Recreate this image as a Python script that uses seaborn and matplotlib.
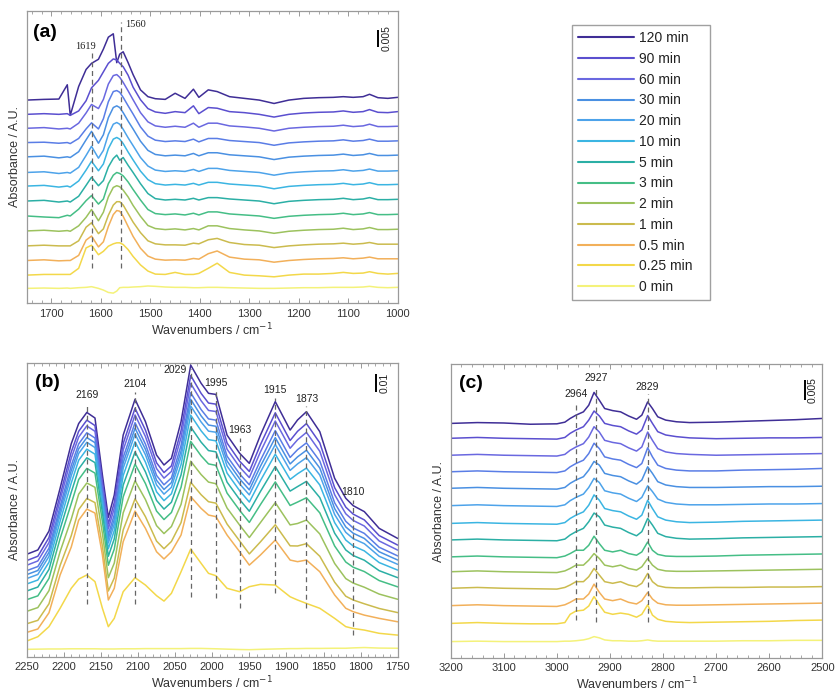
import matplotlib
matplotlib.use("Agg")
import matplotlib.pyplot as plt
import seaborn as sns
from matplotlib.ticker import MultipleLocator

# ------------------------------------------------------------------
# Data (absorbance values in units of 1e-3 A.U., offset spectra)
# ------------------------------------------------------------------
TIME_LABELS = ["120 min", "90 min", "60 min", "", "30 min", "20 min", "10 min",
               "5 min", "3 min", "2 min", "1 min", "0.5 min", "0.25 min", "0 min"]

# ---- panel (a): 1750-1000 cm-1 ----
WN_A = [1750, 1715, 1685, 1668, 1662, 1645, 1630, 1619, 1605, 1595, 1585, 1575, 1568, 1562,
        1555, 1545, 1535, 1520, 1505, 1490, 1470, 1450, 1430, 1413, 1402, 1383, 1365, 1340,
        1310, 1280, 1250, 1220, 1190, 1160, 1130, 1110, 1090, 1070, 1057, 1040, 1020, 1000]
a_120 = [59.7, 59.9, 60.0, 64.2, 55.2, 63.7, 68.7, 70.5, 71.7, 74.7, 78.2, 79.2, 70.7, 73.2, 73.9, 70.7, 67.2, 62.7, 60.7, 60.1, 59.9, 61.7, 60.2, 62.9, 60.5, 62.7, 62.2, 60.7, 60.2, 59.7, 58.7, 59.7, 60.2, 60.4, 60.5, 60.7, 60.5, 60.7, 61.4, 60.4, 60.2, 60.5]
a_90 = [55.5, 55.7, 55.5, 55.7, 55.2, 56.5, 59.5, 63.3, 65.5, 68.0, 70.5, 71.8, 71.5, 70.5, 69.5, 67.0, 63.5, 59.8, 57.2, 56.2, 55.8, 56.3, 56.0, 58.0, 55.7, 57.5, 57.3, 56.3, 56.0, 55.5, 54.7, 55.5, 55.9, 56.1, 56.2, 56.5, 56.1, 56.3, 56.9, 56.1, 56.0, 56.3]
a_60 = [51.4, 51.6, 51.2, 51.4, 51.2, 52.9, 55.9, 58.4, 57.2, 59.9, 64.4, 66.9, 67.2, 66.4, 64.9, 62.4, 59.8, 56.0, 53.3, 52.1, 51.7, 52.0, 51.7, 52.9, 51.7, 52.9, 52.9, 52.1, 51.8, 51.4, 50.6, 51.4, 51.7, 51.9, 52.0, 52.3, 51.9, 52.1, 52.6, 51.9, 51.9, 52.0]
a_x = [47.2, 47.3, 47.0, 47.2, 46.9, 48.4, 51.2, 53.0, 51.2, 54.2, 59.2, 62.2, 62.5, 62.0, 60.5, 58.0, 55.6, 51.8, 49.1, 47.9, 47.5, 47.7, 47.5, 48.2, 47.4, 48.4, 48.4, 47.8, 47.5, 47.2, 46.4, 47.1, 47.4, 47.6, 47.7, 48.0, 47.6, 47.8, 48.2, 47.6, 47.6, 47.7]
a_30 = [43.0, 43.2, 42.7, 43.0, 42.8, 44.5, 48.0, 50.5, 47.0, 49.5, 54.5, 57.5, 58.0, 57.5, 56.0, 53.5, 51.2, 47.6, 44.9, 43.7, 43.3, 43.5, 43.3, 44.0, 43.3, 44.2, 44.2, 43.6, 43.3, 43.0, 42.2, 42.9, 43.2, 43.4, 43.5, 43.8, 43.4, 43.6, 44.0, 43.4, 43.4, 43.5]
a_20 = [38.4, 38.6, 38.1, 38.4, 38.2, 39.9, 43.4, 46.1, 42.6, 44.9, 49.6, 52.6, 53.1, 52.6, 51.1, 48.6, 46.3, 42.8, 40.3, 39.1, 38.7, 38.9, 38.7, 39.3, 38.7, 39.6, 39.6, 39.0, 38.7, 38.4, 37.6, 38.3, 38.6, 38.8, 38.9, 39.2, 38.8, 39.0, 39.4, 38.8, 38.8, 38.9]
a_10 = [34.4, 34.6, 34.1, 34.4, 34.1, 35.9, 39.1, 41.7, 38.9, 40.9, 45.4, 48.2, 48.7, 48.2, 46.9, 44.4, 42.1, 38.8, 36.3, 35.1, 34.7, 34.9, 34.7, 35.2, 34.7, 35.5, 35.5, 35.0, 34.7, 34.4, 33.6, 34.3, 34.6, 34.8, 34.9, 35.2, 34.8, 35.0, 35.4, 34.8, 34.8, 34.9]
a_5 = [30.0, 30.2, 29.7, 30.0, 29.7, 31.4, 34.6, 37.0, 34.5, 36.0, 40.0, 42.5, 43.5, 42.0, 42.8, 40.5, 38.4, 35.1, 32.2, 30.7, 30.3, 30.5, 30.3, 30.8, 30.3, 31.0, 31.0, 30.6, 30.3, 30.0, 29.2, 29.9, 30.2, 30.4, 30.5, 30.8, 30.4, 30.6, 31.0, 30.4, 30.4, 30.5]
a_3 = [25.6, 25.3, 25.1, 25.8, 25.6, 27.6, 30.1, 31.6, 29.1, 30.6, 35.1, 37.6, 38.4, 38.1, 37.4, 35.6, 33.4, 30.3, 27.5, 26.3, 26.0, 26.2, 25.9, 26.4, 25.9, 26.8, 26.8, 26.2, 25.9, 25.6, 24.9, 25.5, 25.8, 26.0, 26.1, 26.4, 26.0, 26.2, 26.6, 26.0, 26.0, 26.1]
a_2 = [21.2, 21.4, 21.1, 21.3, 21.1, 22.7, 25.2, 27.5, 24.2, 26.7, 31.2, 34.0, 34.5, 34.2, 33.2, 31.2, 28.7, 25.5, 22.8, 21.9, 21.6, 21.8, 21.5, 21.9, 21.5, 22.7, 22.7, 21.9, 21.5, 21.2, 20.5, 21.1, 21.4, 21.6, 21.7, 22.0, 21.6, 21.8, 22.2, 21.6, 21.6, 21.7]
a_1 = [16.8, 17.0, 16.8, 16.8, 16.8, 18.3, 22.3, 23.6, 20.4, 21.8, 25.8, 28.8, 29.8, 29.8, 28.8, 26.3, 23.8, 20.7, 18.3, 17.4, 17.1, 17.1, 17.0, 17.6, 17.4, 18.6, 19.0, 17.8, 17.2, 17.0, 16.3, 16.8, 17.1, 17.3, 17.4, 17.6, 17.3, 17.5, 17.8, 17.3, 17.3, 17.3]
a_05 = [12.5, 12.7, 12.4, 12.5, 12.5, 14.0, 18.5, 19.7, 16.5, 18.0, 22.5, 26.0, 27.2, 27.0, 25.5, 22.5, 19.6, 16.1, 13.8, 12.9, 12.6, 12.7, 12.6, 13.1, 12.9, 14.5, 15.3, 13.5, 12.9, 12.7, 12.0, 12.5, 12.8, 13.0, 13.1, 13.3, 13.0, 13.2, 13.5, 13.0, 13.0, 13.0]
a_025 = [8.2, 8.4, 8.4, 8.4, 8.4, 10.2, 16.2, 17.0, 14.2, 15.2, 16.7, 17.4, 17.7, 17.7, 17.2, 15.7, 13.7, 11.2, 9.4, 8.5, 8.4, 9.0, 8.4, 8.4, 8.7, 10.2, 11.7, 9.0, 8.2, 8.0, 7.7, 8.2, 8.5, 8.5, 8.7, 9.0, 8.7, 8.8, 9.2, 8.7, 8.5, 8.7]
a_0 = [4.3, 4.4, 4.3, 4.4, 4.3, 4.5, 4.6, 4.8, 4.3, 3.8, 3.1, 2.9, 3.5, 4.5, 4.6, 4.6, 4.7, 4.8, 5.0, 4.9, 4.7, 4.6, 4.6, 4.5, 4.5, 4.6, 4.6, 4.5, 4.4, 4.3, 4.3, 4.4, 4.5, 4.5, 4.6, 4.6, 4.6, 4.7, 4.9, 4.6, 4.5, 4.6]

# ---- panel (b): 2250-1750 cm-1 ----
WN_B = [2250, 2235, 2220, 2205, 2190, 2180, 2169, 2158, 2148, 2140, 2132, 2120, 2104, 2090,
        2075, 2065, 2055, 2042, 2029, 2015, 2005, 1995, 1980, 1963, 1950, 1935, 1915, 1895,
        1885, 1873, 1855, 1835, 1820, 1810, 1795, 1775, 1750]
b_120 = [56.9, 59.3, 69.8, 93.6, 118.3, 129.5, 135.7, 132.6, 100.9, 77.4, 89.8, 123.1, 143.0, 130.6, 112.0, 106.5, 110.2, 130.6, 162.0, 151.9, 146.3, 145.7, 123.1, 113.0, 107.4, 123.1, 141.7, 125.9, 131.5, 136.1, 125.0, 99.1, 88.0, 83.9, 80.6, 71.3, 65.7]
b_90 = [53.4, 55.8, 66.2, 89.7, 113.7, 125.2, 131.4, 128.4, 97.3, 73.7, 85.7, 118.4, 138.0, 125.9, 107.7, 102.3, 106.0, 125.6, 156.2, 146.3, 140.9, 140.3, 118.7, 108.6, 102.9, 117.8, 135.5, 120.1, 125.2, 129.5, 118.8, 93.9, 83.1, 79.2, 76.0, 67.3, 62.0]
b_60 = [50.8, 53.2, 63.4, 86.9, 110.3, 122.0, 128.2, 125.2, 94.7, 71.0, 82.5, 114.8, 134.3, 122.3, 104.5, 99.2, 102.9, 121.8, 151.8, 142.2, 136.8, 136.2, 115.3, 105.3, 99.5, 113.8, 130.9, 115.8, 120.5, 124.6, 114.1, 90.0, 79.4, 75.7, 72.6, 64.3, 59.2]
b_x = [47.8, 50.1, 60.3, 83.5, 106.2, 118.2, 124.4, 121.5, 91.6, 67.8, 78.9, 110.7, 130.0, 118.1, 100.7, 95.5, 99.3, 117.4, 146.6, 137.3, 132.1, 131.4, 111.4, 101.5, 95.5, 109.1, 125.6, 110.7, 115.0, 118.8, 108.7, 85.5, 75.2, 71.5, 68.5, 60.8, 56.0]
b_30 = [45.6, 47.9, 58.0, 81.1, 103.4, 115.5, 121.7, 118.9, 89.4, 65.5, 76.3, 107.7, 126.9, 115.2, 98.0, 92.9, 96.7, 114.2, 143.0, 133.8, 128.7, 128.0, 108.7, 98.8, 92.7, 105.8, 121.7, 107.1, 111.0, 114.7, 104.8, 82.3, 72.1, 68.6, 65.7, 58.3, 53.7]
b_20 = [43.4, 45.7, 55.7, 78.7, 100.5, 112.9, 119.1, 116.2, 87.1, 63.2, 73.7, 104.7, 123.7, 112.2, 95.4, 90.3, 94.1, 111.1, 139.3, 130.4, 125.3, 124.7, 105.9, 96.0, 89.9, 102.5, 117.9, 103.5, 107.1, 110.6, 100.9, 79.0, 69.1, 65.6, 62.8, 55.8, 51.3]
b_10 = [40.4, 42.6, 52.5, 75.3, 96.5, 109.1, 115.3, 112.5, 84.0, 60.0, 70.1, 100.6, 119.4, 108.1, 91.6, 86.7, 90.5, 106.7, 134.2, 125.5, 120.6, 119.9, 102.0, 92.2, 85.9, 97.8, 112.5, 98.5, 101.6, 104.8, 95.4, 74.5, 64.8, 61.5, 58.8, 52.3, 48.1]
b_5 = [36.5, 38.7, 48.5, 70.9, 91.3, 104.3, 110.5, 107.8, 80.0, 55.8, 65.5, 95.3, 113.8, 102.7, 86.8, 82.0, 85.8, 101.0, 127.6, 119.2, 114.5, 113.8, 97.0, 87.3, 80.8, 91.8, 105.6, 92.0, 94.5, 97.4, 88.4, 68.6, 59.3, 56.2, 53.6, 47.8, 43.9]
b_3 = [31.7, 33.8, 43.5, 65.6, 85.0, 98.4, 104.6, 102.0, 75.1, 50.8, 59.8, 88.8, 107.0, 96.2, 80.9, 76.2, 80.1, 94.1, 119.6, 111.6, 107.1, 106.3, 90.9, 81.3, 74.6, 84.5, 97.1, 84.0, 85.9, 88.3, 79.9, 61.5, 52.6, 49.7, 47.3, 42.3, 38.8]
b_2 = [25.2, 27.3, 36.7, 58.4, 76.4, 90.3, 96.5, 94.1, 68.5, 43.9, 52.0, 79.9, 97.7, 87.3, 72.8, 68.4, 72.3, 84.6, 108.6, 101.2, 97.0, 96.1, 82.6, 73.1, 66.2, 74.5, 85.6, 73.2, 74.0, 75.9, 68.2, 51.8, 43.4, 40.9, 38.6, 34.8, 31.9]
b_1 = [18.3, 20.2, 29.4, 50.7, 67.2, 81.7, 87.9, 85.6, 61.4, 36.5, 43.7, 70.4, 87.7, 77.8, 64.2, 60.0, 64.0, 74.5, 96.9, 90.0, 86.1, 85.3, 73.7, 64.3, 57.1, 63.8, 73.3, 61.6, 61.5, 62.8, 55.8, 41.4, 33.6, 31.5, 29.4, 26.8, 24.5]
b_05 = [13.5, 15.4, 24.4, 45.4, 60.9, 75.8, 82.0, 79.8, 56.5, 31.5, 38.0, 63.9, 80.9, 71.3, 58.3, 54.3, 58.3, 67.6, 88.9, 82.4, 78.7, 77.8, 67.6, 58.3, 50.9, 56.5, 64.8, 53.7, 52.8, 53.7, 47.2, 34.3, 26.9, 25.0, 23.1, 21.3, 19.4]
b_025 = [8.7, 11.1, 16.7, 26.9, 38.0, 43.1, 45.4, 41.7, 26.9, 16.7, 21.3, 36.1, 43.9, 39.8, 33.9, 30.9, 35.2, 47.2, 59.8, 51.9, 46.3, 45.0, 38.0, 36.1, 38.9, 40.2, 39.8, 33.3, 31.5, 29.6, 26.9, 21.3, 16.7, 15.7, 14.8, 13.0, 12.0]
b_0 = [4.1, 4.2, 4.3, 4.3, 4.4, 4.4, 4.4, 4.4, 4.3, 4.3, 4.3, 4.4, 4.4, 4.5, 4.5, 4.5, 4.5, 4.5, 4.6, 4.6, 4.5, 4.4, 4.2, 4.0, 3.9, 4.1, 4.3, 4.5, 4.5, 4.6, 4.6, 4.7, 4.7, 4.9, 5.1, 4.8, 4.7]

# ---- panel (c): 3200-2500 cm-1 ----
WN_C = [3200, 3150, 3100, 3050, 3000, 2985, 2975, 2964, 2950, 2940, 2930, 2920, 2910, 2895,
        2880, 2865, 2850, 2840, 2829, 2820, 2810, 2795, 2775, 2750, 2700, 2650, 2600, 2550, 2500]
c_120 = [56.7, 56.9, 56.8, 56.5, 56.6, 57.0, 57.9, 58.7, 59.5, 61.1, 64.2, 62.3, 60.3, 59.8, 59.5, 58.5, 57.7, 58.7, 61.9, 60.3, 58.3, 57.5, 57.1, 56.9, 57.0, 57.2, 57.4, 57.6, 57.9]
c_90 = [53.1, 53.3, 53.1, 53.0, 52.9, 53.3, 54.3, 55.1, 55.9, 57.5, 59.7, 58.5, 56.7, 56.2, 55.9, 54.9, 54.1, 55.1, 58.6, 56.7, 54.7, 53.9, 53.5, 53.2, 53.0, 53.1, 53.2, 53.2, 53.3]
c_60 = [49.0, 49.2, 49.0, 48.9, 48.8, 49.2, 50.2, 51.0, 51.8, 53.4, 55.9, 54.6, 52.6, 52.1, 51.8, 50.8, 50.0, 51.0, 54.6, 52.6, 50.6, 49.8, 49.4, 49.2, 49.0, 49.1, 49.2, 49.3, 49.4]
c_x = [45.0, 45.2, 45.0, 44.9, 44.8, 45.2, 46.2, 47.0, 47.8, 49.4, 51.9, 50.6, 48.6, 48.1, 47.8, 46.8, 46.0, 47.0, 50.8, 48.6, 46.6, 45.8, 45.4, 45.2, 45.2, 45.4, 45.5, 45.6, 45.8]
c_30 = [41.0, 41.2, 41.0, 40.9, 40.8, 41.2, 42.2, 43.0, 43.8, 45.4, 47.5, 46.6, 44.6, 44.1, 43.8, 42.8, 42.0, 43.0, 46.2, 44.6, 42.6, 41.8, 41.4, 41.2, 41.2, 41.3, 41.4, 41.4, 41.5]
c_20 = [36.8, 37.0, 36.8, 36.7, 36.6, 37.0, 38.0, 38.8, 39.6, 41.2, 43.4, 42.4, 40.4, 39.9, 39.6, 38.6, 37.8, 38.8, 41.6, 40.2, 38.4, 37.6, 37.2, 37.0, 37.0, 37.1, 37.2, 37.2, 37.3]
c_10 = [32.5, 32.7, 32.5, 32.4, 32.3, 32.7, 33.7, 34.5, 35.3, 36.9, 39.4, 38.1, 36.1, 35.6, 35.3, 34.3, 33.5, 34.5, 38.1, 36.1, 34.1, 33.3, 32.9, 32.7, 32.8, 33.0, 33.1, 33.2, 33.3]
c_5 = [28.5, 28.7, 28.5, 28.4, 28.3, 28.7, 29.7, 30.5, 31.3, 32.9, 35.0, 34.1, 32.1, 31.6, 31.3, 30.3, 29.5, 30.5, 33.7, 32.1, 30.1, 29.3, 28.9, 28.7, 28.8, 29.0, 29.1, 29.2, 29.3]
c_3 = [24.4, 24.6, 24.4, 24.3, 24.2, 24.6, 25.2, 26.0, 26.0, 27.2, 29.4, 27.6, 26.0, 25.6, 26.0, 25.2, 24.8, 25.6, 28.0, 26.0, 25.0, 24.6, 24.5, 24.5, 24.6, 24.8, 24.9, 25.0, 25.1]
c_2 = [20.8, 21.0, 20.8, 20.7, 20.6, 21.0, 21.6, 22.4, 22.4, 23.6, 25.2, 24.0, 22.4, 22.0, 22.4, 21.6, 21.2, 22.0, 24.0, 22.4, 21.4, 21.0, 20.9, 20.9, 21.0, 21.1, 21.2, 21.3, 21.4]
c_1 = [16.8, 17.0, 16.8, 16.7, 16.6, 17.0, 17.6, 18.4, 18.4, 19.6, 21.6, 20.0, 18.4, 18.0, 18.4, 17.6, 17.2, 18.0, 20.4, 18.4, 17.4, 17.0, 16.9, 16.9, 17.0, 17.0, 17.1, 17.1, 17.2]
c_05 = [12.6, 12.8, 12.6, 12.5, 12.4, 12.8, 13.4, 14.2, 14.2, 15.4, 17.8, 15.8, 14.2, 13.8, 14.2, 13.4, 13.0, 13.8, 15.8, 14.2, 13.2, 12.8, 12.7, 12.7, 12.8, 12.9, 13.0, 13.1, 13.2]
c_025 = [8.3, 8.5, 8.3, 8.2, 8.2, 8.5, 10.5, 11.3, 11.5, 12.5, 14.8, 12.8, 11.0, 10.5, 10.8, 10.5, 9.8, 10.5, 12.8, 10.3, 9.3, 8.8, 8.6, 8.5, 8.6, 8.7, 8.8, 9.0, 9.1]
c_0 = [3.9, 4.0, 3.9, 3.9, 3.9, 4.0, 4.0, 4.1, 4.3, 4.6, 5.1, 4.8, 4.3, 4.1, 4.1, 4.0, 4.0, 4.1, 4.3, 4.1, 4.0, 4.0, 4.0, 4.0, 4.0, 4.1, 4.1, 4.2, 4.2]

# Marked peaks: (wavenumber, dashed-line top, dashed-line bottom)
PEAKS_A = [(1619, 73.4, 10.2), (1560, 82.7, 10.2)]
PEAKS_B = [(2169, 141.0, 29.1), (2104, 146.9, 29.1), (2029, 160.0, 33.3), (1995, 147.8, 32.8),
           (1963, 121.5, 26.9), (1915, 143.6, 35.2), (1873, 139.1, 26.9), (1810, 87.3, 12.0)]
PEAKS_C = [(2964, 62.0, 9.1), (2927, 65.7, 8.7), (2829, 63.7, 8.7)]

# Scale bars: (x position, bottom, length in 1e-3 A.U., label)
SCALE_A = (1040, 75.4, 5, "0.005")
SCALE_B = (1779, 147.2, 10, "0.01")
SCALE_C = (2533, 62.3, 5, "0.005")

# ------------------------------------------------------------------
# Style
# ------------------------------------------------------------------
COLORS = ["#3F2E96", "#5B4FCF", "#6A68E0", "#5A7DE6", "#4A90E2", "#4DA3EA", "#3BB5E2",
          "#2BAFA5", "#45BE86", "#9CC25E", "#CBBB4E", "#F2B05A", "#F3D84A", "#F4F27A"]

sns.set_theme(style="white")
plt.rcParams["font.family"] = ["Liberation Sans", "DejaVu Sans"]

fig = plt.figure(figsize=(8.35, 6.97), dpi=100)
ax_a = fig.add_axes([0.032, 0.5653, 0.4443, 0.4189])
ax_b = fig.add_axes([0.032, 0.0578, 0.4443, 0.4210])
ax_c = fig.add_axes([0.5398, 0.0564, 0.4450, 0.4209])

TXT = "#333333"


def draw_panel(ax, wn, curves, peaks, xlim, ylim, major, minor, tag, tagpos, scale,
               peak_family, label_offsets):
    for vals, col, lab in zip(curves, COLORS, TIME_LABELS):
        sns.lineplot(x=wn, y=vals, ax=ax, color=col, linewidth=1.1, sort=False,
                     estimator=None, legend=False, label=lab if lab else "_nolegend_")
    for (w, top, bot) in peaks:
        ax.vlines(w, bot, top, colors="#666666", linestyles=(0, (4, 3)), linewidth=0.9)
        dx, dy, ha, va = label_offsets.get(w, (0, 2, "center", "bottom"))
        ax.annotate(str(w), xy=(w, top), xytext=(dx, dy), textcoords="offset points",
                    ha=ha, va=va, fontsize=7.5, color="#222222", family=peak_family)
    sx, sy, slen, slab = scale
    ax.vlines(sx, sy, sy + slen, colors="black", linewidth=1.4)
    ax.annotate(slab, xy=(sx, sy + slen / 2), xytext=(6, 0), textcoords="offset points",
                rotation=90, ha="center", va="center", fontsize=7.5, color="#222222")
    ax.text(tagpos[0], tagpos[1], tag, transform=ax.transAxes, fontsize=14,
            fontweight="bold", ha="left", va="center", color="black")
    ax.set_xlim(*xlim)
    ax.set_ylim(*ylim)
    ax.set_yticks([])
    ax.xaxis.set_major_locator(MultipleLocator(major))
    ax.xaxis.set_minor_locator(MultipleLocator(minor))
    ax.tick_params(axis="x", which="major", direction="in", top=True, bottom=True,
                   length=3.5, width=0.7, color="#999999", labelsize=8, labelcolor=TXT, pad=4)
    ax.tick_params(axis="x", which="minor", direction="in", top=True, bottom=True,
                   length=2, width=0.6, color="#999999")
    for sp in ax.spines.values():
        sp.set_color("#9a9a9a")
        sp.set_linewidth(0.9)
    ax.set_xlabel("Wavenumbers / cm$^{-1}$", fontsize=9, color=TXT, labelpad=2)
    ax.set_ylabel("Absorbance / A.U.", fontsize=9, color=TXT, labelpad=4)


draw_panel(ax_a, WN_A,
           [a_120, a_90, a_60, a_x, a_30, a_20, a_10, a_5, a_3, a_2, a_1, a_05, a_025, a_0],
           PEAKS_A, (1750, 1000), (0, 85.9), 100, 20, "(a)", (0.018, 0.928), SCALE_A,
           ["Liberation Serif", "DejaVu Serif"],
           {1619: (-4, 2, "center", "bottom"), 1560: (3, -2, "left", "center")})
draw_panel(ax_b, WN_B,
           [b_120, b_90, b_60, b_x, b_30, b_20, b_10, b_5, b_3, b_2, b_1, b_05, b_025, b_0],
           PEAKS_B, (2250, 1750), (0, 163), 50, 10, "(b)", (0.022, 0.933), SCALE_B,
           ["Liberation Sans", "DejaVu Sans"],
           {2029: (-3, -1, "right", "center")})
draw_panel(ax_c, WN_C,
           [c_120, c_90, c_60, c_x, c_30, c_20, c_10, c_5, c_3, c_2, c_1, c_05, c_025, c_0],
           PEAKS_C, (3200, 2500), (0, 71), 100, 20, "(c)", (0.023, 0.935), SCALE_C,
           ["Liberation Sans", "DejaVu Sans"], {})

handles, labels = ax_a.get_legend_handles_labels()
leg = fig.legend(handles, labels, loc="upper left",
                 bbox_to_anchor=(572 / 835, 1 - 25 / 697, 138 / 835, 0.0), mode="expand",
                 fontsize=10, frameon=True, fancybox=False, handlelength=4.0,
                 handletextpad=0.35, labelspacing=0.485, borderpad=0.45, borderaxespad=0)
leg.get_frame().set_edgecolor("#888888")
leg.get_frame().set_linewidth(1.0)
for t in leg.get_texts():
    t.set_color("#222222")
for ln in leg.get_lines():
    ln.set_linewidth(1.5)

fig.savefig("out.png", dpi=100)
